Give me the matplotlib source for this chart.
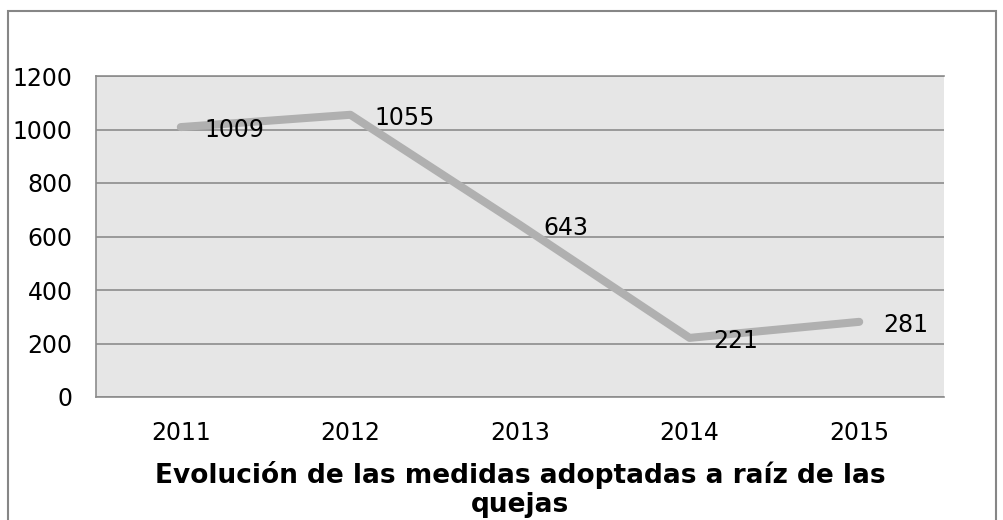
import matplotlib.pyplot as plt
from matplotlib.patches import Rectangle

years = ['2011', '2012', '2013', '2014', '2015']
medidas = [1009, 1055, 643, 221, 281]
yticks = [0, 200, 400, 600, 800, 1000, 1200]
title = 'Evolución de las medidas adoptadas a raíz de las\nquejas'

plt.rcParams['font.family'] = ['DejaVu Sans']

fig = plt.figure(figsize=(10.04, 5.20), dpi=100)
W, H = 1004, 520
# plot area in pixels: left 96, right 944, top 76, bottom 397
ax = fig.add_axes([96 / W, 1 - 397 / H, (944 - 96) / W, (397 - 76) / H])
ax.set_facecolor('#e6e6e6')

x = list(range(len(years)))
ax.plot(x, medidas, color='#b0b0b0', linewidth=5.8, solid_capstyle='round', zorder=3)
for xi, v in zip(x, medidas):
    ax.annotate(str(v), (xi, v), xytext=(17, -2), textcoords='offset points',
                ha='left', va='center', fontsize=17, color='black', zorder=4)

ax.set_xlim(-0.5, 4.5)
ax.set_ylim(0, 1200)
ax.set_yticks(yticks)
ax.set_xticks(x)
ax.set_xticklabels(years)
ax.tick_params(length=0, labelsize=17)
ax.tick_params(axis='y', pad=17)
ax.tick_params(axis='x', pad=17)
ax.yaxis.grid(True, color='#8c8c8c', linewidth=1.2)
ax.set_axisbelow(True)
for s in ['left', 'bottom', 'top']:
    ax.spines[s].set_color('#8c8c8c')
    ax.spines[s].set_linewidth(1.2)
ax.spines['right'].set_visible(False)

ax.set_xlabel(title, fontsize=19, fontweight='bold', labelpad=12, linespacing=1.15)

fig.patches.append(Rectangle((8 / W, -0.1), (996 - 8) / W, 1 - 11 / H + 0.1,
                             transform=fig.transFigure, fill=False,
                             edgecolor='#868686', linewidth=1.5))

fig.savefig('out.png', dpi=100)
